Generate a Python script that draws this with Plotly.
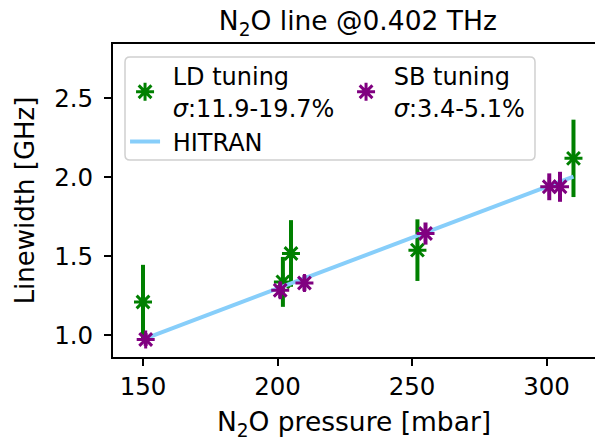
import plotly.graph_objects as go

# LD tuning measurements
ld_pressure = [150, 202, 205, 252, 310]
ld_width = [1.211, 1.338, 1.518, 1.539, 2.120]
ld_err = [0.235, 0.158, 0.211, 0.195, 0.245]

# SB tuning measurements
sb_pressure = [151, 201, 210, 255, 301, 305]
sb_width = [0.973, 1.285, 1.331, 1.644, 1.940, 1.940]
sb_err = [0.04, 0.05, 0.05, 0.07, 0.085, 0.095]

# HITRAN reference linewidth
hitran_pressure = [151, 310]
hitran_width = [0.980, 2.005]

x_ticks = [150, 200, 250, 300]
y_ticks = [1.0, 1.5, 2.0, 2.5]

GREEN = "#008000"
PURPLE = "#800080"
BLUE = "#87CEFA"
FONT = "DejaVu Sans"
NB = "\u00a0"

fig = go.Figure()

fig.add_trace(go.Scatter(
    x=ld_pressure, y=ld_width, mode="markers",
    name=f"{NB}LD tuning<br>{NB}<i>σ</i>:11.9-19.7%", legendrank=1,
    marker=dict(symbol="asterisk-open", size=15, color=GREEN,
                line=dict(color=GREEN, width=3)),
    error_y=dict(type="data", array=ld_err, visible=True,
                 color=GREEN, thickness=4, width=0),
))

fig.add_trace(go.Scatter(
    x=hitran_pressure, y=hitran_width, mode="lines",
    name=f"{NB}HITRAN", legendrank=3,
    line=dict(color=BLUE, width=4),
))

fig.add_trace(go.Scatter(
    x=sb_pressure, y=sb_width, mode="markers",
    name=f"{NB}SB tuning<br>{NB}<i>σ</i>:3.4-5.1%", legendrank=2,
    marker=dict(symbol="asterisk-open", size=15, color=PURPLE,
                line=dict(color=PURPLE, width=3)),
    error_y=dict(type="data", array=sb_err, visible=True,
                 color=PURPLE, thickness=4, width=0),
))

# rounded legend frame (paper coordinates)
bx0, bx1, by0, by1 = 0.0249, 0.8755, 0.6294, 0.9585
rx, ry = 0.0104, 0.016
frame = (
    f"M {bx0 + rx},{by1} L {bx1 - rx},{by1} Q {bx1},{by1} {bx1},{by1 - ry} "
    f"L {bx1},{by0 + ry} Q {bx1},{by0} {bx1 - rx},{by0} "
    f"L {bx0 + rx},{by0} Q {bx0},{by0} {bx0},{by0 + ry} "
    f"L {bx0},{by1 - ry} Q {bx0},{by1} {bx0 + rx},{by1} Z"
)

fig.update_layout(
    width=595, height=441,
    margin=dict(l=113, r=0, t=44, b=84),
    paper_bgcolor="white", plot_bgcolor="white",
    font=dict(family=FONT, size=24, color="black"),
    title=dict(text="N<sub>2</sub>O line @0.402 THz",
               font=dict(family=FONT, size=26.5, color="black"),
               x=0.508, xref="paper", xanchor="center",
               y=1 - 21 / 441, yref="container", yanchor="middle"),
    showlegend=True,
    legend=dict(
        orientation="h", x=0.025, xanchor="left", y=0.968, yanchor="top",
        bgcolor="rgba(0,0,0,0)", borderwidth=0,
        font=dict(family=FONT, size=24, color="black"),
        entrywidth=176, entrywidthmode="pixels",
        traceorder="normal",
    ),
    shapes=[dict(type="path", xref="paper", yref="paper", path=frame,
                 fillcolor="rgba(255,255,255,0.8)",
                 line=dict(color="#d0d0d0", width=1.5), layer="above")],
)

fig.update_xaxes(
    range=[138.85, 318.0], tickvals=x_ticks, ticktext=[str(v) for v in x_ticks],
    showgrid=False, zeroline=False,
    showline=True, linecolor="black", linewidth=2, mirror=True,
    ticks="outside", ticklen=7, tickwidth=2, tickcolor="black",
    tickfont=dict(family=FONT, size=24.5, color="black"),
    title=dict(text="N<sub>2</sub>O pressure [mbar]",
               font=dict(family=FONT, size=26.5, color="black"), standoff=15),
)

fig.update_yaxes(
    range=[0.8625, 2.844], tickvals=y_ticks, ticktext=[f"{v:.1f}" for v in y_ticks],
    showgrid=False, zeroline=False,
    showline=True, linecolor="black", linewidth=2, mirror=False,
    ticks="outside", ticklen=7, tickwidth=2, tickcolor="black",
    ticklabelstandoff=6,
    tickfont=dict(family=FONT, size=24.5, color="black"),
    title=dict(text="Linewidth [GHz]",
               font=dict(family=FONT, size=26, color="black"), standoff=12),
)

fig.write_html("out.html")
